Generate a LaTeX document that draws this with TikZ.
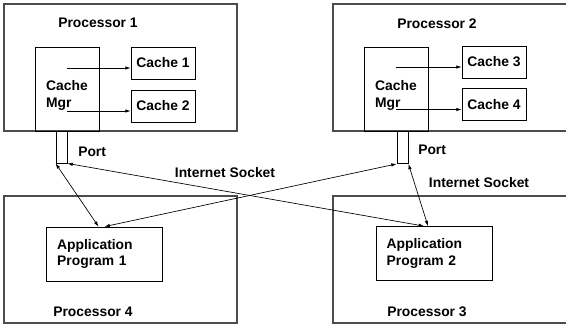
\documentclass[tikz,border=0pt]{standalone}
\usepackage{fontspec}
\setmainfont{Liberation Sans}
\usetikzlibrary{arrows.meta,calc}

\begin{document}
\begin{tikzpicture}[
  x=0.75pt,y=-0.75pt,
  font=\fontsize{10.4}{12.5}\selectfont\bfseries,
  >={Latex[length=4pt,width=2.6pt]},
  proc/.style={draw=black!70,line width=0.9pt,minimum width=174.75pt,minimum height=95.25pt,inner sep=0pt},
  mgr/.style={draw,line width=0.6pt,minimum width=48pt,minimum height=63pt,align=left,inner sep=0pt},
  cache/.style={draw,line width=0.6pt,minimum width=48pt,minimum height=24pt,inner sep=0pt},
  port/.style={draw,line width=0.6pt,minimum width=8.25pt,minimum height=24pt,inner sep=0pt},
  app/.style={draw,line width=0.6pt,text width=71pt,inner xsep=8pt,minimum height=40.5pt,align=left},
  lbl/.style={inner sep=0pt},
  arr/.style={->,line width=0.5pt},
  link/.style={<->,line width=0.5pt},
]
\clip (0,0) rectangle (566,326);

% processors
\node[proc] (proc1) at (120.5,67.5) {};
\node[proc,minimum width=177.75pt] (proc2) at (451.5,67.5) {};
\node[proc] (proc4) at (120.5,259.5) {};
\node[proc,minimum width=177.75pt] (proc3) at (451.5,259.5) {};

\node[lbl] (proc1lbl) at (98,23) {Processor 1};
\node[lbl] (proc2lbl) at (437,24) {Processor 2};
\node[lbl] (proc4lbl) at (93,312) {Processor 4};
\node[lbl] (proc3lbl) at (427,312) {Processor 3};

% cache managers and caches
\node[mgr] (mgr1) at (67,89) {\rule{0pt}{17pt}Cache\\Mgr};
\node[mgr] (mgr2) at (396,89) {\rule{0pt}{17pt}Cache\\Mgr};
\node[cache] (cache1) at (163,63) {Cache 1};
\node[cache] (cache2) at (163,106) {Cache 2};
\node[cache] (cache3) at (494,62) {Cache 3};
\node[cache] (cache4) at (494,104.5) {Cache 4};

\draw[arr] ($(mgr1.center |- cache1.west)+(0,5)$) -- ($(cache1.west)+(0,5)$);
\draw[arr] ($(mgr1.center |- cache2.west)+(0,5)$) -- ($(cache2.west)+(0,5)$);
\draw[arr] ($(mgr2.center |- cache3.west)+(0,5)$) -- ($(cache3.west)+(0,5)$);
\draw[arr] ($(mgr2.center |- cache4.west)+(0,5)$) -- ($(cache4.west)+(0,5)$);

% ports
\node[port] (port1) at (61.5,147) {};
\node[port] (port2) at (402.5,147.5) {};
\node[lbl,anchor=west] (port1lbl) at (78,152) {Port};
\node[lbl,anchor=west] (port2lbl) at (418,150) {Port};

% applications
\node[app] (app1) at (104.5,254) {Application\\Program 1};
\node[app] (app2) at (434,253.5) {Application\\Program 2};

\node[lbl] (sock1) at (225,173) {Internet Socket};
\node[lbl] (sock2) at (479,183) {Internet Socket};

% socket links
\draw[link] (port1.south west) -- ($(app1.north)+(-6,0)$);
\draw[link] (port1.south east) -- ($(app2.north)+(-10,0)$);
\draw[link] (port2.south west) -- ($(app1.north)+(0,0)$);
\draw[link] (port2.south east) -- ($(app2.north)+(-6,0)$);

\end{tikzpicture}
\end{document}
